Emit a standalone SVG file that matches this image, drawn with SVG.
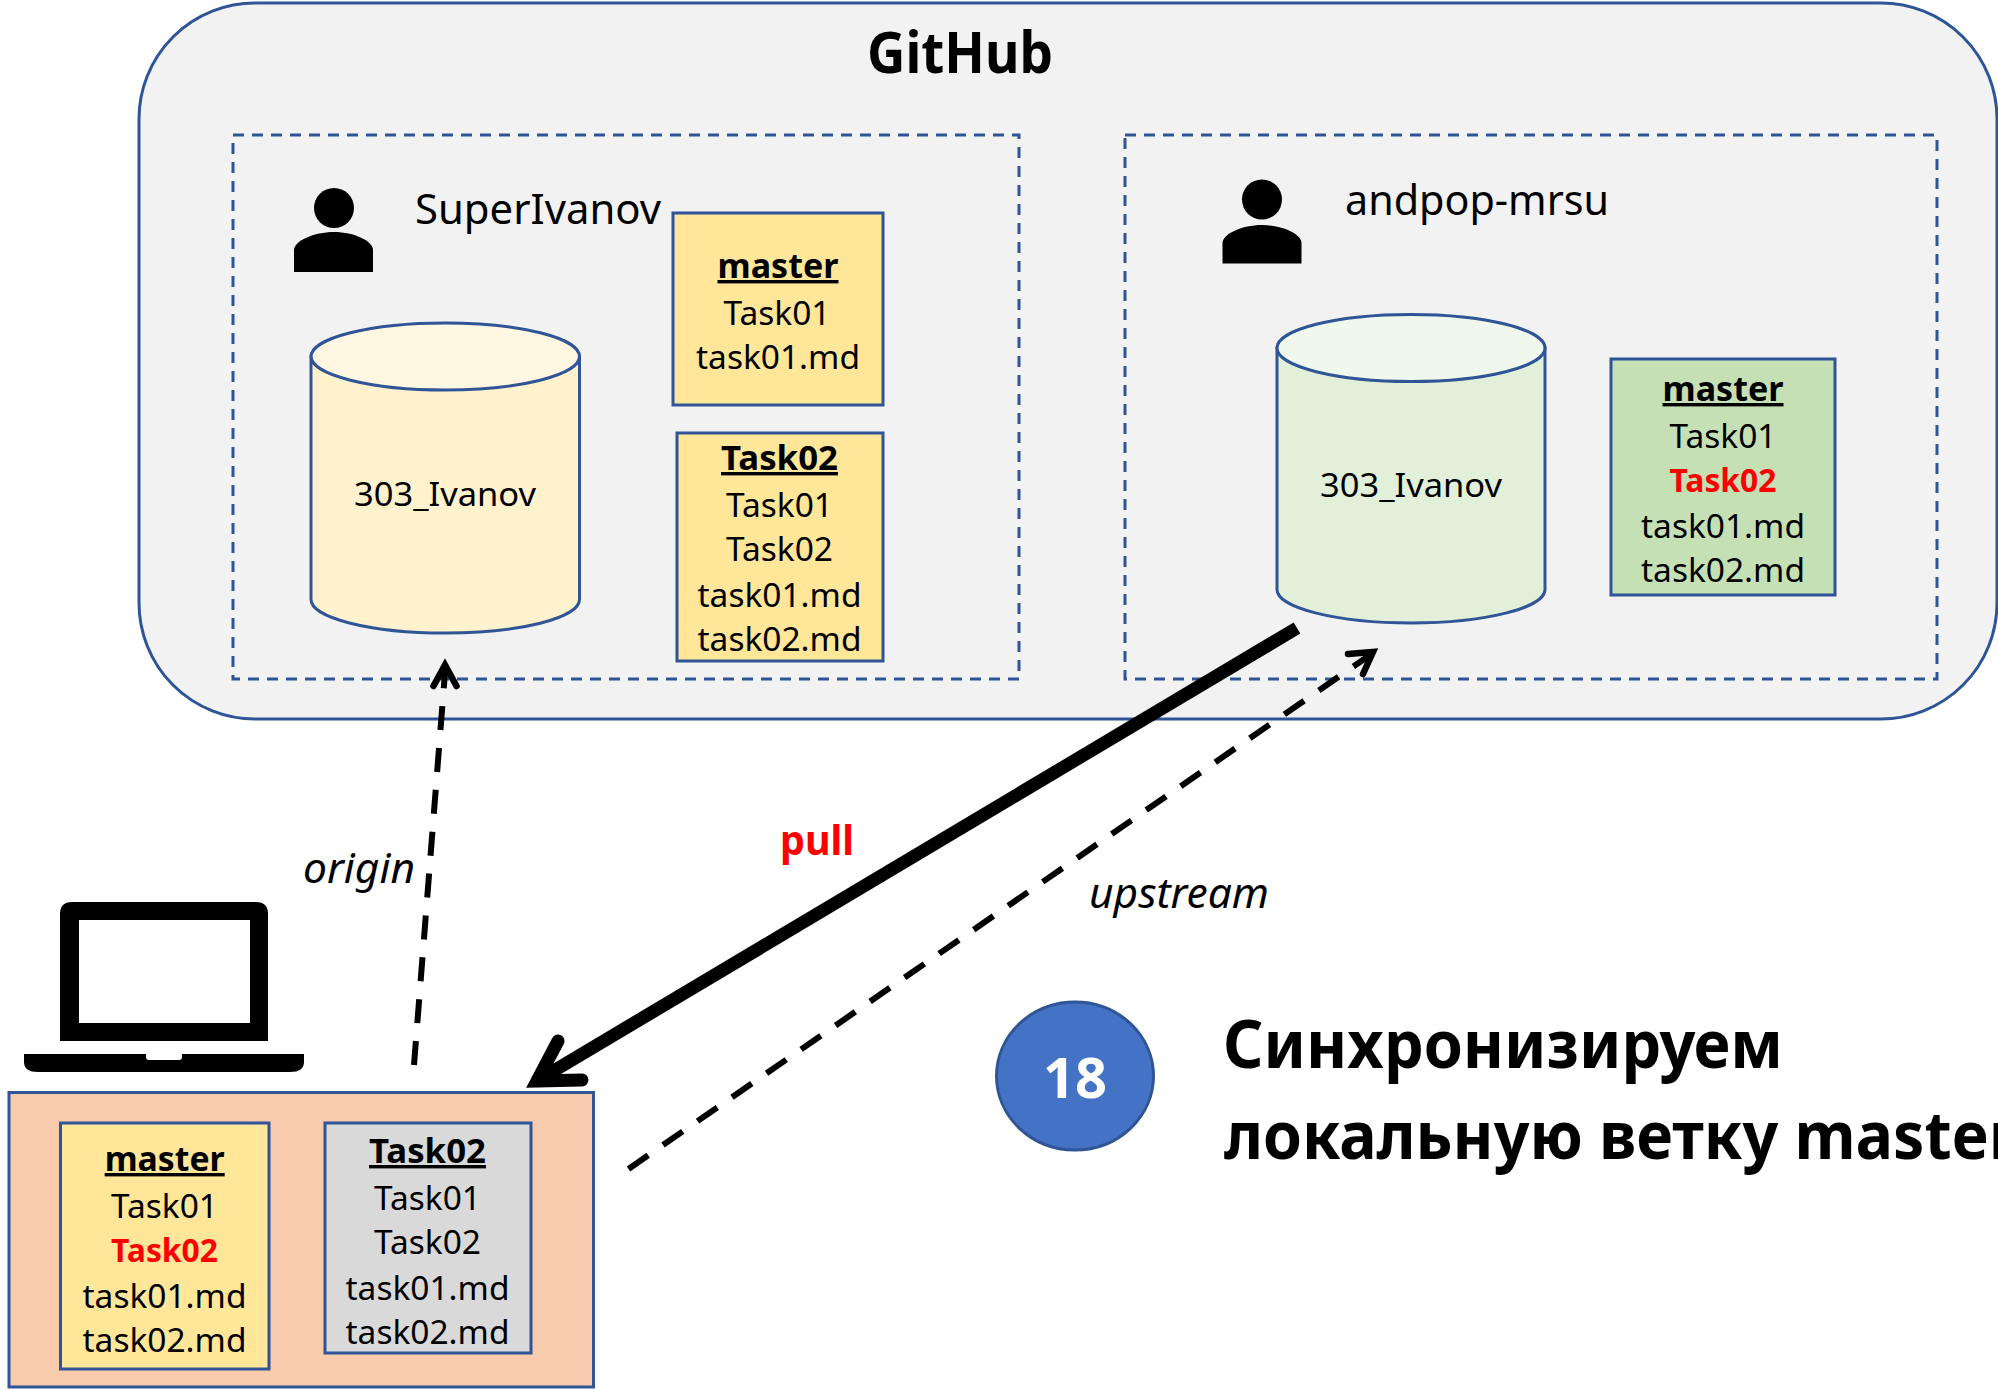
<svg xmlns="http://www.w3.org/2000/svg" width="1998" height="1390" viewBox="0 0 1998 1390">
<style>
text{font-family:"Noto Sans","Open Sans","DejaVu Sans",sans-serif;fill:#000}
.s{stroke:#2F5597;stroke-width:3}
.t{font-size:33px;text-anchor:middle}
.h{font-size:34px;font-weight:700;text-anchor:middle;text-decoration:underline}
.r{font-size:33px;font-weight:700;text-anchor:middle;fill:#FF0000}
.u{font-size:42px}
.c{font-size:33px;text-anchor:middle}
.d{fill:none;stroke:#2F5597;stroke-width:3;stroke-dasharray:11 8}
.i{font-size:42px;font-style:italic}
.b{font-weight:700}
.cn{fill:none;stroke:#000;stroke-width:6;stroke-dasharray:24 18}
.ah{fill:none;stroke:#000;stroke-width:6.500;stroke-linecap:round}
</style>
<g id="github">
<rect x="139" y="3" width="1858" height="716" rx="116" ry="116" fill="#F2F2F2" class="s"/>
<text x="867" y="73" font-size="58" class="b" textLength="186" lengthAdjust="spacingAndGlyphs">GitHub</text>
</g>
<g id="account-superivanov">
<rect x="233" y="135" width="786" height="544" class="d"/>
<ellipse cx="334" cy="208" rx="20" ry="20"/>
<path d="M294 272V250C294 241 314 232 334 232C354 232 373 241 373 250V272Z"/>
<text x="415" y="224" class="u" textLength="246" lengthAdjust="spacingAndGlyphs">SuperIvanov</text>
</g>
<g id="repo-superivanov">
<path d="M311 356.500V599.500A134 33.500 0 0 0 579.500 599.500V356.500Z" fill="#FFF2CC" class="s"/>
<ellipse cx="445.300" cy="356.500" rx="134.200" ry="33.500" fill="#FFF7E1" class="s"/>
<text x="445" y="506" class="c" textLength="182" lengthAdjust="spacingAndGlyphs">303_Ivanov</text>
</g>
<g id="superivanov-master">
<rect x="673" y="213" width="210" height="192" fill="#FFE699" class="s"/>
<text x="778" y="278" class="h" textLength="121" lengthAdjust="spacingAndGlyphs">master</text>
<text x="777" y="325" class="t" textLength="107" lengthAdjust="spacingAndGlyphs">Task01</text>
<text x="778" y="369" class="t" textLength="164" lengthAdjust="spacingAndGlyphs">task01.md</text>
</g>
<g id="superivanov-task02">
<rect x="677" y="433" width="206" height="228" fill="#FFE699" class="s"/>
<text x="779.500" y="470" class="h" textLength="117" lengthAdjust="spacingAndGlyphs">Task02</text>
<text x="779.500" y="517" class="t" textLength="107" lengthAdjust="spacingAndGlyphs">Task01</text>
<text x="779.500" y="561" class="t" textLength="107" lengthAdjust="spacingAndGlyphs">Task02</text>
<text x="779.500" y="607" class="t" textLength="164" lengthAdjust="spacingAndGlyphs">task01.md</text>
<text x="779.500" y="651" class="t" textLength="164" lengthAdjust="spacingAndGlyphs">task02.md</text>
</g>
<g id="account-andpop">
<rect x="1125" y="135" width="812" height="544" class="d"/>
<ellipse cx="1262" cy="199.500" rx="20" ry="20"/>
<path d="M1222.500 263.500V243C1222.500 234 1242 225 1262 225C1282 225 1301.500 234 1301.500 243V263.500Z"/>
<text x="1345" y="215" class="u" textLength="264" lengthAdjust="spacingAndGlyphs">andpop-mrsu</text>
</g>
<g id="repo-andpop">
<path d="M1277 348V589.500A134 33.500 0 0 0 1545 589.500V348Z" fill="#E2F0D9" class="s"/>
<ellipse cx="1411" cy="348" rx="134" ry="33.500" fill="#F0F7EC" class="s"/>
<text x="1411" y="497" class="c" textLength="182" lengthAdjust="spacingAndGlyphs">303_Ivanov</text>
</g>
<g id="andpop-master">
<rect x="1611" y="359" width="224" height="236" fill="#C5E0B4" class="s"/>
<text x="1723" y="401" class="h" textLength="121" lengthAdjust="spacingAndGlyphs">master</text>
<text x="1723" y="448" class="t" textLength="107" lengthAdjust="spacingAndGlyphs">Task01</text>
<text x="1723" y="492" class="r" textLength="107" lengthAdjust="spacingAndGlyphs">Task02</text>
<text x="1723" y="538" class="t" textLength="164" lengthAdjust="spacingAndGlyphs">task01.md</text>
<text x="1723" y="582" class="t" textLength="164" lengthAdjust="spacingAndGlyphs">task02.md</text>
</g>
<g id="laptop">
<path fill-rule="evenodd" d="M60 914Q60 902 72 902H256Q268 902 268 914V1041H60ZM79 920V1023H250V920Z"/>
<path d="M24 1054H146V1057Q146 1060 149 1060H179Q182 1060 182 1057V1054H304V1062Q304 1072 290 1072H38Q24 1072 24 1062Z"/>
</g>
<g id="local">
<rect x="9" y="1092.500" width="584.500" height="294.500" fill="#F8CBAD" class="s"/>
</g>
<g id="local-master">
<rect x="60.500" y="1123" width="208.500" height="246" fill="#FFE699" class="s"/>
<text x="164.700" y="1171" class="h" textLength="120" lengthAdjust="spacingAndGlyphs">master</text>
<text x="164.500" y="1218" class="t" textLength="107" lengthAdjust="spacingAndGlyphs">Task01</text>
<text x="164.500" y="1262" class="r" textLength="107" lengthAdjust="spacingAndGlyphs">Task02</text>
<text x="164.500" y="1308" class="t" textLength="164" lengthAdjust="spacingAndGlyphs">task01.md</text>
<text x="164.500" y="1352" class="t" textLength="164" lengthAdjust="spacingAndGlyphs">task02.md</text>
</g>
<g id="local-task02">
<rect x="325" y="1123" width="206" height="230" fill="#D9D9D9" class="s"/>
<text x="427.500" y="1163" class="h" textLength="117" lengthAdjust="spacingAndGlyphs">Task02</text>
<text x="427.500" y="1210" class="t" textLength="107" lengthAdjust="spacingAndGlyphs">Task01</text>
<text x="427.500" y="1254" class="t" textLength="107" lengthAdjust="spacingAndGlyphs">Task02</text>
<text x="427.500" y="1300" class="t" textLength="164" lengthAdjust="spacingAndGlyphs">task01.md</text>
<text x="427.500" y="1344" class="t" textLength="164" lengthAdjust="spacingAndGlyphs">task02.md</text>
</g>
<g id="connectors">
<line x1="414" y1="1065" x2="445.500" y2="666" class="cn"/>
<path d="M433.500 686L445 665L456.500 686" class="ah"/>
<line x1="628.500" y1="1169" x2="1370" y2="655" class="cn"/>
<path d="M1348 654L1373 652L1363 674" class="ah"/>
<line x1="1297" y1="628" x2="535" y2="1082" fill="none" stroke="#000" stroke-width="13"/>
<path d="M558 1041L537 1081L582 1080" fill="none" stroke="#000" stroke-width="13" stroke-linecap="round"/>
</g>
<g id="labels">
<text x="303" y="883" class="i" textLength="112" lengthAdjust="spacingAndGlyphs">origin</text>
<text x="1089" y="908" class="i" textLength="180" lengthAdjust="spacingAndGlyphs">upstream</text>
<text x="780" y="855" font-size="42" class="b" style="fill:#FF0000" textLength="74" lengthAdjust="spacingAndGlyphs">pull</text>
</g>
<g id="step-18">
<ellipse cx="1075" cy="1076" rx="78.500" ry="74" fill="#4472C4" class="s"/>
<text x="1075" y="1097.500" font-size="56" class="b" style="fill:#fff" text-anchor="middle" textLength="64" lengthAdjust="spacingAndGlyphs">18</text>
</g>
<g id="title">
<text x="1223" y="1068" font-size="66" class="b" textLength="560" lengthAdjust="spacingAndGlyphs">Синхронизируем</text>
<text x="1224" y="1159" font-size="66" class="b" textLength="793" lengthAdjust="spacingAndGlyphs">локальную ветку master</text>
</g>
</svg>
